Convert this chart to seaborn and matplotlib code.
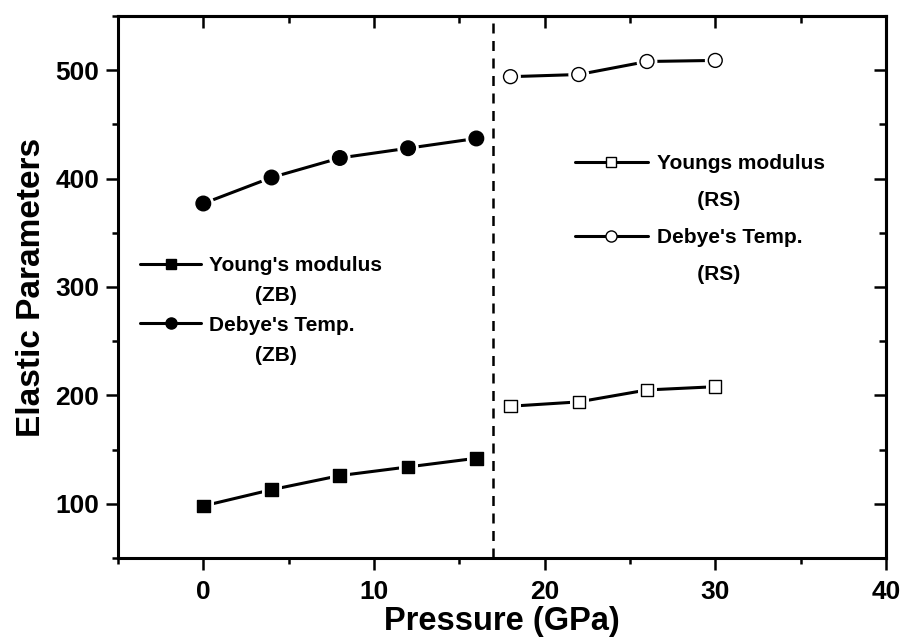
import matplotlib
matplotlib.use("Agg")
import matplotlib.pyplot as plt
import matplotlib.patheffects as pe
import seaborn as sns
import pandas as pd
from matplotlib.lines import Line2D
from matplotlib.ticker import MultipleLocator

sns.set_theme(style="ticks")
plt.rcParams['font.family'] = ['Liberation Sans', 'DejaVu Sans']
plt.rcParams['font.weight'] = 'bold'
plt.rcParams['text.color'] = 'black'
plt.rcParams['axes.labelcolor'] = 'black'
plt.rcParams['xtick.color'] = 'black'
plt.rcParams['ytick.color'] = 'black'

p_zb = [0, 4, 8, 12, 16]
young_zb = [98, 113, 126, 134, 142]
debye_zb = [377, 401, 419, 428, 437]
p_rs = [18, 22, 26, 30]
young_rs = [190, 194, 205, 208]
debye_rs = [494, 496, 508, 509]
transition = 17

legend_zb = ["Young's modulus", "        (ZB)", "Debye's Temp.", "        (ZB)"]
legend_rs = ["Youngs modulus", "       (RS)", "Debye's Temp.", "       (RS)"]

fig = plt.figure(figsize=(9.04, 6.39), dpi=100)
ax = fig.add_axes([0.1305, 0.1268, 0.8495, 0.8482])

series = [
    (p_zb, young_zb, 's', 'black', 85),
    (p_zb, debye_zb, 'o', 'black', 110),
    (p_rs, young_rs, 's', 'white', 80),
    (p_rs, debye_rs, 'o', 'white', 100),
]
for x, y, m, fc, s in series:
    df = pd.DataFrame({'x': x, 'y': y})
    sns.lineplot(data=df, x='x', y='y', ax=ax, color='black', lw=2.2)
    sc = sns.scatterplot(data=df, x='x', y='y', ax=ax, marker=m, s=s,
                         facecolor=fc, edgecolor='black', linewidth=1.0, zorder=3)
    sc.collections[-1].set_path_effects([pe.withStroke(linewidth=5, foreground='white')])

ax.axvline(transition, color='black', lw=1.8, ls=(0, (4, 3)))

ax.set_xlim(-5, 40)
ax.set_ylim(50, 550)
ax.set_xticks([0, 10, 20, 30, 40])
ax.set_yticks([100, 200, 300, 400, 500])
ax.xaxis.set_minor_locator(MultipleLocator(5))
ax.yaxis.set_minor_locator(MultipleLocator(50))

for s in ax.spines.values():
    s.set_visible(True)
    s.set_linewidth(2.2)
    s.set_color('black')

ax.tick_params(which='major', direction='out', length=8.5, width=1.8,
               labelsize=19, pad=5)
ax.tick_params(axis='x', which='major', pad=7)
ax.tick_params(which='minor', direction='out', length=4.5, width=1.8)
for lab in ax.get_xticklabels() + ax.get_yticklabels():
    lab.set_fontweight('bold')

ax.set_xlabel('Pressure (GPa)', fontsize=23.5, fontweight='bold', labelpad=2)
ax.set_ylabel('Elastic Parameters', fontsize=24, fontweight='bold', labelpad=6)

# mirrored ticks on top and right, pointing inward
sec_x = ax.secondary_xaxis('top')
sec_x.set_xticks([0, 10, 20, 30, 40])
sec_x.xaxis.set_minor_locator(MultipleLocator(5))
sec_x.tick_params(which='major', direction='in', length=8.5, width=1.8, labeltop=False)
sec_x.tick_params(which='minor', direction='in', length=5, width=1.8)
sec_x.spines['top'].set_linewidth(2.2)
sec_y = ax.secondary_yaxis('right')
sec_y.set_yticks([100, 200, 300, 400, 500])
sec_y.yaxis.set_minor_locator(MultipleLocator(50))
sec_y.tick_params(which='major', direction='in', length=9, width=1.8, labelright=False)
sec_y.tick_params(which='minor', direction='in', length=5, width=1.8)
sec_y.spines['right'].set_linewidth(2.2)

def handle(m, fc, ms):
    return Line2D([], [], color='black', lw=2.2, marker=m, markersize=ms,
                  markerfacecolor=fc, markeredgecolor='black', markeredgewidth=1)

blank = Line2D([], [], color='none')
leg_prop = {'size': 15, 'weight': 'bold'}

leg1 = ax.legend([handle('s', 'black', 7.5), blank, handle('o', 'black', 8), blank],
                 legend_zb, loc='upper left', bbox_to_anchor=(0.0286, 0.557),
                 frameon=False, prop=leg_prop,
                 handlelength=2.95, handletextpad=0.38, labelspacing=0.52,
                 borderaxespad=0, borderpad=0)
ax.add_artist(leg1)
leg2 = ax.legend([handle('s', 'white', 7.5), blank, handle('o', 'white', 8), blank],
                 legend_rs, loc='upper left', bbox_to_anchor=(0.595, 0.745),
                 frameon=False, prop=leg_prop,
                 handlelength=3.5, handletextpad=0.43, labelspacing=0.86,
                 borderaxespad=0, borderpad=0)

fig.savefig('out.png', dpi=100)
